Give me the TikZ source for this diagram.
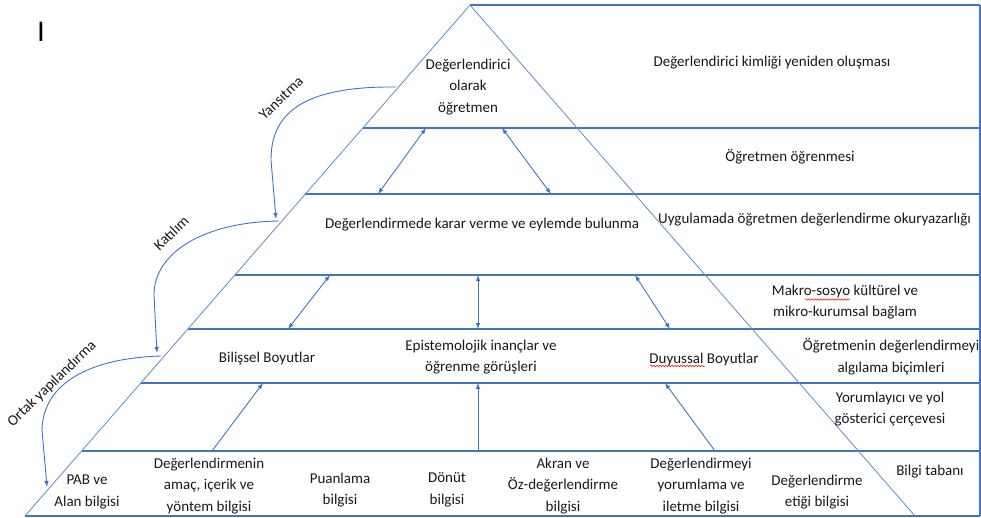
\documentclass[tikz,border=0pt]{standalone}
\usepackage{fontspec}
\setmainfont{Carlito}
\newfontfamily\cursorfont{Liberation Sans}
\usetikzlibrary{arrows.meta,decorations.pathmorphing}
\definecolor{lineblue}{RGB}{68,114,196}
\definecolor{edgeblue}{RGB}{95,140,208}
\definecolor{txt}{RGB}{25,25,25}
\begin{document}
\begin{tikzpicture}[x=1pt,y=-1pt,
  band/.style={draw=lineblue,line width=1.1pt},
  edge/.style={draw=edgeblue,line width=0.8pt},
  conn/.style={draw=lineblue,line width=0.9pt,-{Latex[length=6pt,width=4.5pt]}},
  dconn/.style={draw=lineblue,line width=0.9pt,{Latex[length=6pt,width=4.5pt]}-{Latex[length=6pt,width=4.5pt]}},
  lbl/.style={font=\fontsize{15}{21.5}\selectfont, align=center, inner sep=0pt, text=txt},
  rlbl/.style={lbl, rotate=44},
  spell/.style={draw=red, line width=0.5pt, decorate, decoration={snake,amplitude=0.7pt,segment length=3pt}}
  ]
\clip (0,0) rectangle (981,518);
\fill[white] (0,0) rectangle (981,518);
% triangle vertices
\coordinate (apex) at (470,5);
\coordinate (bl) at (25,516);
\coordinate (br) at (915,516);
% left ends of horizontal lines
\coordinate (l1) at (362.9,128);
\coordinate (l2) at (305.4,194);
\coordinate (l3) at (234.9,275);
\coordinate (l4) at (187.9,329);
\coordinate (l5) at (140.8,383);
\coordinate (l6) at (81.6,451);
% right ends
\coordinate (r0) at (980,5);
\coordinate (r1) at (980,128);
\coordinate (r2) at (980,194);
\coordinate (r3) at (980,275);
\coordinate (r4) at (980,329);
\coordinate (r5) at (980,383);
\coordinate (r6) at (980,451);
\coordinate (r7) at (980,516);
% horizontal bands
\draw[band] (apex) -- (r0);
\draw[band] (l1) -- (r1);
\draw[band] (l2) -- (r2);
\draw[band] (l3) -- (r3);
\draw[band] (l4) -- (r4);
\draw[band] (l5) -- (r5);
\draw[band] (l6) -- (r6);
\draw[band] (bl) -- (r7);
\draw[band] (r0) -- (r7);
% triangle edges
\draw[edge] (bl) -- (apex) -- (br);

% texts
\node[lbl] (t1) at (468,87) {Değerlendirici\\olarak\\öğretmen};
\node[lbl] (t2) at (772,63) {Değerlendirici kimliği yeniden oluşması};
\node[lbl] (t3) at (790,157) {Öğretmen öğrenmesi};
\node[lbl] (t4) at (482,225) {Değerlendirmede karar verme ve eylemde bulunma};
\node[lbl, anchor=west] (t5) at (658,220) {Uygulamada öğretmen değerlendirme okuryazarlığı};
\node[lbl] (t6) at (845,302) {Makro-sosyo kültürel ve\\mikro-kurumsal bağlam};
\node[lbl] (t7) at (267,359) {Bilişsel Boyutlar};
\node[lbl] (t8) at (481,357) {Epistemolojik inançlar ve\\öğrenme görüşleri};
\node[lbl] (t9) at (704,359) {Duyussal Boyutlar};
\node[lbl] (t10) at (891,357) {Öğretmenin değerlendirmeyi\\algılama biçimleri};
\node[lbl] (t11) at (890,409) {Yorumlayıcı ve yol\\gösterici çerçevesi};
\node[lbl] (b1) at (87,492) {PAB ve\\Alan bilgisi};
\node[lbl] (b2) at (209,486) {Değerlendirmenin\\amaç, içerik ve\\yöntem bilgisi};
\node[lbl] (b3) at (340,490) {Puanlama\\bilgisi};
\node[lbl] (b4) at (447,490) {Dönüt\\bilgisi};
\node[lbl] (b5) at (563,486) {Akran ve\\Öz-değerlendirme\\bilgisi};
\node[lbl] (b6) at (701,486) {Değerlendirmeyi\\yorumlama ve\\iletme bilgisi};
\node[lbl] (b7) at (817,492) {Değerlendirme\\etiği bilgisi};
\node[lbl] (b8) at (930,472) {Bilgi tabanı};
\node[rlbl] (y1) at (281,98) {Yansıtma};
\node[rlbl] (y2) at (171,233) {Katılım};
\node[rlbl] (y3) at (52,384) {Ortak yapılandırma};
\node[inner sep=0pt, font=\cursorfont\fontsize{28}{28}\selectfont, text=black] (cur) at (41,32) {I};

% spell-check marks
\draw[spell] (805,299.5) -- (850,299.5);
\draw[spell] (650,366) -- (705,366);

% arrows between bands
\coordinate (a1t) at (426,128); \coordinate (a1b) at (378,194);
\coordinate (a2t) at (502,128); \coordinate (a2b) at (551,194);
\coordinate (a3t) at (330,275); \coordinate (a3b) at (288,329);
\coordinate (a4t) at (478,275); \coordinate (a4b) at (478,329);
\coordinate (a5t) at (635,275); \coordinate (a5b) at (670,329);
\coordinate (a6t) at (263,383); \coordinate (a6b) at (212,451);
\coordinate (a7t) at (478,383); \coordinate (a7b) at (478,451);
\coordinate (a8t) at (665,383); \coordinate (a8b) at (715,451);
\draw[dconn] (a1t) -- (a1b);
\draw[dconn] (a2t) -- (a2b);
\draw[dconn] (a3t) -- (a3b);
\draw[dconn] (a4t) -- (a4b);
\draw[dconn] (a5t) -- (a5b);
\draw[conn] (a6b) -- (a6t);
\draw[conn] (a7b) -- (a7t);
\draw[conn] (a8b) -- (a8t);

% curved arrows on the left
\coordinate (c1s) at (396,87);  \coordinate (c1e) at (276,219);
\coordinate (c2s) at (279,221); \coordinate (c2e) at (157,353);
\coordinate (c3s) at (161,356); \coordinate (c3e) at (47,487);
\draw[conn] (c1s) .. controls (300,86) and (271,115) .. (271,160) -- (c1e);
\draw[conn] (c2s) .. controls (205,222) and (154,252) .. (154,295) -- (c2e);
\draw[conn] (c3s) .. controls (92,358) and (43,382) .. (42,430) -- (c3e);
\end{tikzpicture}
\end{document}
